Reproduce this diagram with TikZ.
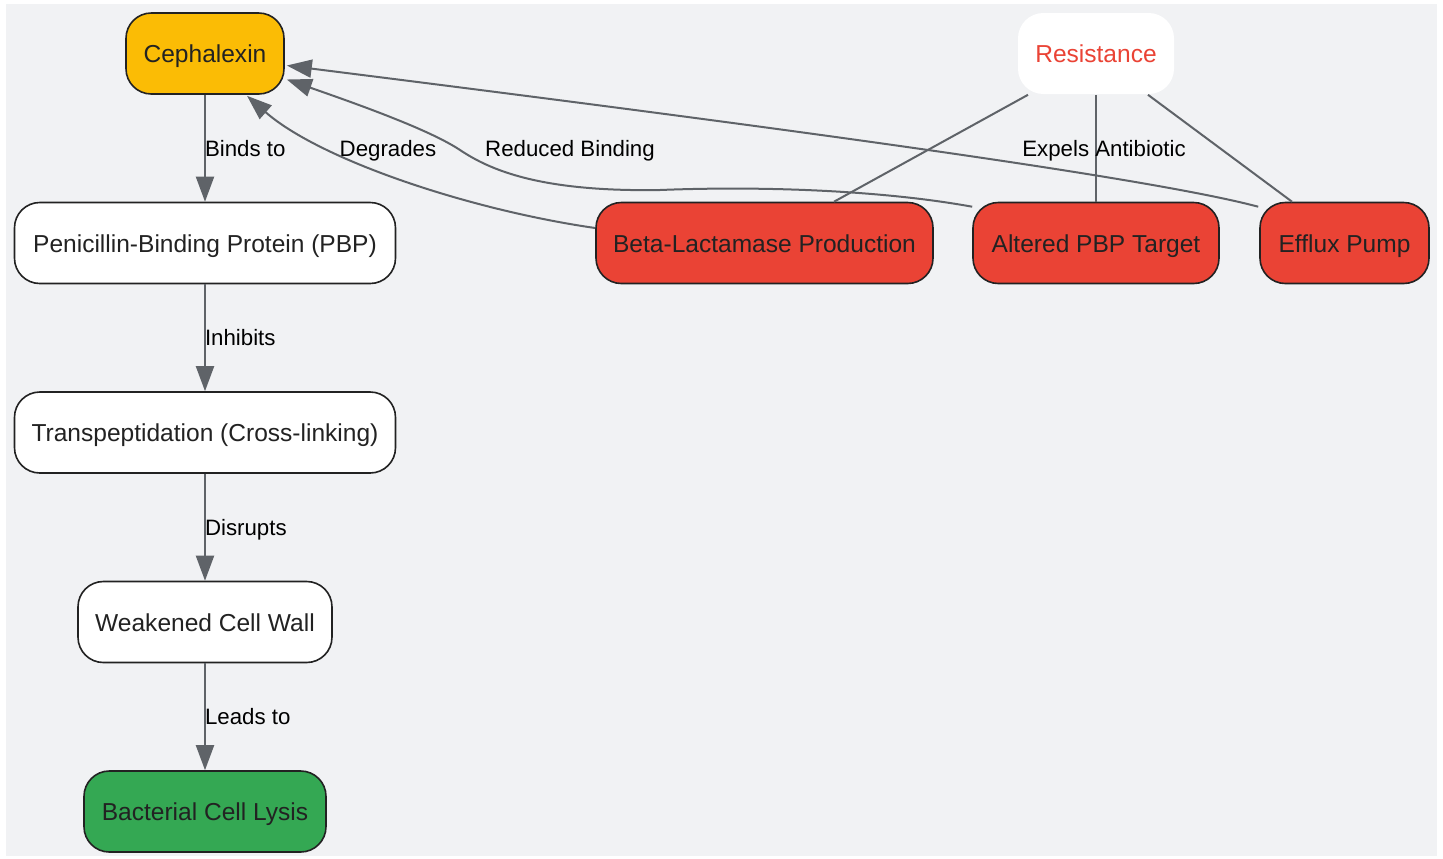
\documentclass[tikz,border=0pt]{standalone}
\usepackage{fontspec}
\setmainfont{Liberation Sans}
\usetikzlibrary{arrows.meta,calc}
\definecolor{bgc}{HTML}{F1F2F4}
\definecolor{amber}{HTML}{FBBC05}
\definecolor{redc}{HTML}{EA4335}
\definecolor{greenc}{HTML}{34A853}
\definecolor{bdc}{HTML}{222222}
\definecolor{txc}{HTML}{222222}
\definecolor{edgec}{HTML}{5F6368}
\newcommand\mynodefont{\fontsize{18.4}{22}\selectfont}
\newcommand\mylabelfont{\fontsize{16.7}{20}\selectfont}
\begin{document}
\begin{tikzpicture}[x=0.75pt,y=-0.75pt,
  box/.style={draw=bdc, line width=1.2pt, rounded corners=19pt, font=\mynodefont, text=txc, inner sep=0pt, text height=16pt, text depth=2.2pt, minimum height=81*0.75pt},
  edge/.style={draw=edgec, line width=1.5pt, -{Triangle[length=25*0.75pt, width=18*0.75pt]}},
  link/.style={draw=edgec, line width=1.5pt},
  lbl/.style={font=\mylabelfont, text=black, inner sep=0pt, text height=14pt, text depth=2pt}]
\useasboundingbox (0,0) rectangle (1443,858);
\fill[bgc] (6,4) rectangle (1437,856);

% main chain
\node[box, fill=amber, minimum width=158*0.75pt] (ceph) at (205,53.5) {Cephalexin};
\node[box, fill=white, minimum width=381*0.75pt] (pbp) at (205,243) {Penicillin-Binding Protein (PBP)};
\node[box, fill=white, minimum width=381*0.75pt] (trans) at (205,432.5) {Transpeptidation (Cross-linking)};
\node[box, fill=white, minimum width=254*0.75pt] (weak) at (205,622) {Weakened Cell Wall};
\node[box, fill=greenc, minimum width=242*0.75pt] (lysis) at (205,811.5) {Bacterial Cell Lysis};

% resistance
\node[box, draw=none, fill=white, text=redc, minimum width=156*0.75pt] (res) at (1096,53.5) {Resistance};
\node[box, fill=redc, minimum width=337*0.75pt] (beta) at (764.5,243) {Beta-Lactamase Production};
\node[box, fill=redc, minimum width=246*0.75pt] (alt) at (1096,243) {Altered PBP Target};
\node[box, fill=redc, minimum width=169*0.75pt] (eff) at (1344.5,243) {Efflux Pump};

% chain edges
\draw[edge] (ceph) -- (pbp) node[lbl, midway, anchor=west, xshift=-0.75pt] (l1) {Binds to};
\draw[edge] (pbp) -- (trans) node[lbl, midway, anchor=west, xshift=-0.75pt] (l2) {Inhibits};
\draw[edge] (trans) -- (weak) node[lbl, midway, anchor=west, xshift=-0.75pt] (l3) {Disrupts};
\draw[edge] (weak) -- (lysis) node[lbl, midway, anchor=west, xshift=-0.75pt] (l4) {Leads to};

% resistance links
\draw[link] ($(res.south)+(-68,0)$) -- ($(beta.north)+(69.5,0)$);
\draw[link] (res.south) -- (alt.north);
\draw[link] ($(res.south)+(52,0)$) -- ($(eff.north)+(-52.5,0)$);

% curved edges back to Cephalexin
\draw[edge] ($(beta.west)+(0,-15)$) .. controls (470,210) and (320,160) .. ($(ceph.south)+(42,1)$);
\draw[edge] ($(alt.north west)+(0,5)$) .. controls (880,190) and (760,186) .. (660,190)
  .. controls (540,192) and (490,170) .. (460,150)
  .. controls (430,130) and (360,105) .. ($(ceph.east)+(2,26)$);
\draw[edge] ($(eff.north west)+(-1,5)$) .. controls (1150,178) and (800,130) .. ($(ceph.east)+(2,12)$);

\node[lbl] (l5) at (388,148) {Degrades};
\node[lbl] (l6) at (570,148) {Reduced Binding};
\node[lbl] (l7) at (1104,148) {Expels Antibiotic};
\end{tikzpicture}
\end{document}
